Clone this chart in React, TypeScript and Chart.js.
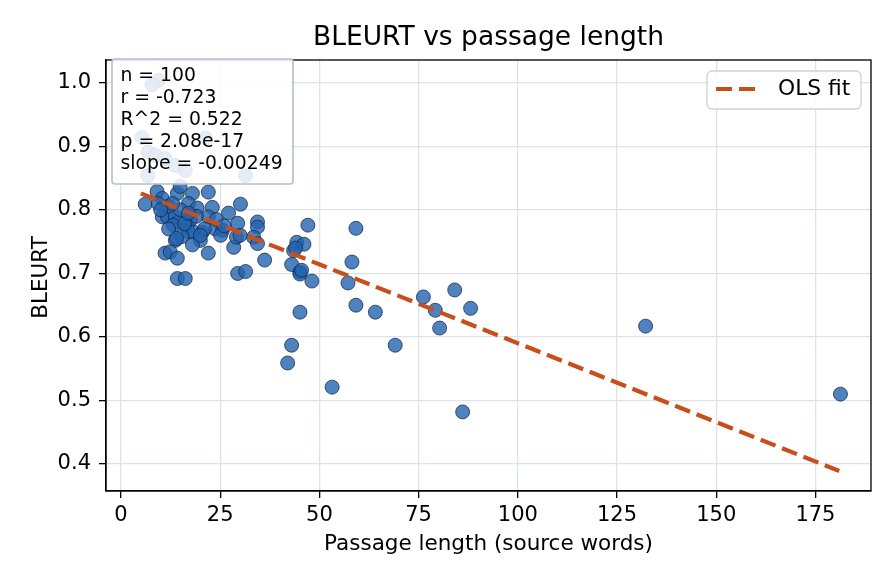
import { useEffect, useRef } from "react";
import { Chart, registerables } from "chart.js";

Chart.register(...registerables);

// passage length (source words) and BLEURT score
const passageLength: number[] = [
  9.4, 7.8, 5.3, 6.8, 8.6, 11.1, 13.7, 16.2, 21.3, 31.4,
  6.8, 6.1, 9.1, 10.4, 9.4, 14.2, 14.9, 18.0, 22.0, 17.0,
  19.2, 23.0, 10.4, 11.7, 13.7, 14.5, 17.5, 22.0, 13.2, 16.7,
  20.5, 23.8, 13.7, 17.0, 18.3, 20.0, 15.4, 11.1, 12.4, 14.2,
  22.0, 14.2, 16.2, 27.1, 30.1, 29.4, 25.6, 25.1, 28.4, 29.1,
  34.4, 34.4, 33.4, 34.4, 36.2, 29.4, 31.4, 47.1, 44.3, 43.5,
  46.1, 43.0, 45.1, 45.1, 48.1, 59.2, 58.2, 57.2, 59.2, 64.1,
  45.1, 43.0, 42.0, 53.2, 69.1, 76.2, 79.2, 80.3, 84.1, 88.1,
  86.1, 132.2, 181.3, 15.0, 12.0, 19.0, 16.0, 21.0, 18.0, 12.0,
  24.0, 26.0, 44.0, 45.5, 14.0, 20.0, 10.0, 17.0, 13.0, 30.0,
];

const bleurt: number[] = [
  1.004, 0.997, 0.914, 0.891, 0.886, 0.881, 0.87, 0.862, 0.913, 0.854,
  0.854, 0.809, 0.829, 0.818, 0.81, 0.826, 0.837, 0.826, 0.828, 0.81,
  0.803, 0.804, 0.789, 0.789, 0.789, 0.781, 0.784, 0.789, 0.776, 0.773,
  0.765, 0.77, 0.752, 0.765, 0.765, 0.752, 0.758, 0.732, 0.734, 0.724,
  0.732, 0.692, 0.692, 0.795, 0.809, 0.779, 0.768, 0.76, 0.741, 0.757,
  0.781, 0.773, 0.757, 0.747, 0.721, 0.7, 0.703, 0.776, 0.749, 0.736,
  0.746, 0.714, 0.702, 0.699, 0.688, 0.771, 0.718, 0.685, 0.65, 0.639,
  0.639, 0.587, 0.559, 0.521, 0.587, 0.663, 0.642, 0.614, 0.674, 0.645,
  0.482, 0.617, 0.51, 0.8, 0.806, 0.79, 0.778, 0.77, 0.745, 0.77,
  0.785, 0.775, 0.74, 0.705, 0.755, 0.76, 0.8, 0.795, 0.81, 0.76,
];

// OLS fit line end points
const fitX: number[] = [5, 181];
const fitY: number[] = [0.826, 0.389];

const statLines: string[] = [
  "n = 100",
  "r = -0.723",
  "R^2 = 0.522",
  "p = 2.08e-17",
  "slope = -0.00249",
];

const FONT = "'DejaVu Sans', sans-serif";
const LINE_COLOR = "#c84f1c";

const overlay = {
  id: "overlay",
  afterDatasetsDraw(chart: Chart) {
    const { ctx, chartArea: a } = chart;
    ctx.save();

    // frame round the axes
    ctx.strokeStyle = "#000";
    ctx.lineWidth = 1.3;
    ctx.strokeRect(a.left, a.top, a.right - a.left, a.bottom - a.top);

    ctx.fillStyle = "#000";
    ctx.textAlign = "center";
    ctx.textBaseline = "alphabetic";
    ctx.font = `26.5px ${FONT}`;
    ctx.fillText("BLEURT vs passage length", (a.left + a.right) / 2, 45);

    ctx.font = `21.5px ${FONT}`;
    ctx.fillText("Passage length (source words)", (a.left + a.right) / 2, 550);

    ctx.save();
    ctx.translate(46.5, (a.top + a.bottom) / 2 + 2);
    ctx.rotate(-Math.PI / 2);
    ctx.fillText("BLEURT", 0, 0);
    ctx.restore();

    // stats box
    ctx.beginPath();
    ctx.roundRect(112, 59, 181, 125, 3);
    ctx.fillStyle = "rgba(255,255,255,0.86)";
    ctx.fill();
    ctx.strokeStyle = "#b3bfcf";
    ctx.lineWidth = 1.6;
    ctx.stroke();
    ctx.fillStyle = "#000";
    ctx.textAlign = "left";
    ctx.textBaseline = "middle";
    ctx.font = `18.8px ${FONT}`;
    statLines.forEach((s, i) => ctx.fillText(s, 120.5, 76 + i * 22.1));

    // legend
    ctx.beginPath();
    ctx.roundRect(707, 71, 154, 38, 5);
    ctx.fillStyle = "rgba(255,255,255,0.85)";
    ctx.fill();
    ctx.strokeStyle = "#d2d2d2";
    ctx.lineWidth = 1.3;
    ctx.stroke();
    ctx.beginPath();
    ctx.setLineDash([16, 7]);
    ctx.strokeStyle = LINE_COLOR;
    ctx.lineWidth = 4.2;
    ctx.moveTo(716, 89);
    ctx.lineTo(756, 89);
    ctx.stroke();
    ctx.setLineDash([]);
    ctx.fillStyle = "#000";
    ctx.font = `21.8px ${FONT}`;
    ctx.fillText("OLS fit", 778, 89);

    ctx.restore();
  },
};

export default function App() {
  const canvasRef = useRef<HTMLCanvasElement | null>(null);

  useEffect(() => {
    document.body.style.margin = "0";
    const canvas = canvasRef.current;
    if (!canvas) return;

    const tickFont = { family: FONT, size: 21 };

    const chart = new Chart(canvas, {
      type: "scatter",
      data: {
        datasets: [
          {
            label: "OLS fit",
            data: fitX.map((x, i) => ({ x, y: fitY[i] })),
            showLine: true,
            borderColor: LINE_COLOR,
            borderWidth: 4.2,
            borderDash: [16, 7],
            pointRadius: 0,
            order: 0,
          },
          {
            label: "passages",
            data: passageLength.map((x, i) => ({ x, y: bleurt[i] })),
            pointRadius: 7,
            backgroundColor: "rgba(35,100,176,0.8)",
            borderColor: "rgba(20,35,60,0.9)",
            borderWidth: 0.8,
            order: 1,
          },
        ],
      },
      options: {
        animation: false,
        responsive: true,
        maintainAspectRatio: false,
        events: [],
        layout: { padding: { left: 0, right: 25, top: 60, bottom: 0 } },
        plugins: {
          legend: { display: false },
          tooltip: { enabled: false },
          title: { display: false },
        },
        scales: {
          x: {
            type: "linear",
            min: -3.78,
            max: 189,
            afterFit: (s: any) => {
              s.height = 93;
            },
            ticks: {
              stepSize: 25,
              includeBounds: false,
              font: tickFont,
              color: "#000",
              padding: 5,
              maxRotation: 0,
            },
            grid: {
              color: "#dde3ec",
              lineWidth: 1.3,
              tickLength: 7,
              tickColor: "#000",
              tickWidth: 1.3,
            },
            border: { display: true, color: "#000", width: 1.3 },
          },
          y: {
            type: "linear",
            min: 0.3575,
            max: 1.036,
            afterFit: (s: any) => {
              s.width = 106;
            },
            ticks: {
              stepSize: 0.1,
              includeBounds: false,
              font: tickFont,
              color: "#000",
              padding: 8,
              callback: (v: any) => Number(v).toFixed(1),
            },
            grid: {
              color: "#dde3ec",
              lineWidth: 1.3,
              tickLength: 7,
              tickColor: "#000",
              tickWidth: 1.3,
            },
            border: { display: true, color: "#000", width: 1.3 },
          },
        },
      },
      plugins: [overlay],
    });

    return () => {
      chart.destroy();
    };
  }, []);

  return (
    <div style={{ width: 896, height: 584, position: "relative", background: "#fff" }}>
      <canvas ref={canvasRef}></canvas>
    </div>
  );
}
